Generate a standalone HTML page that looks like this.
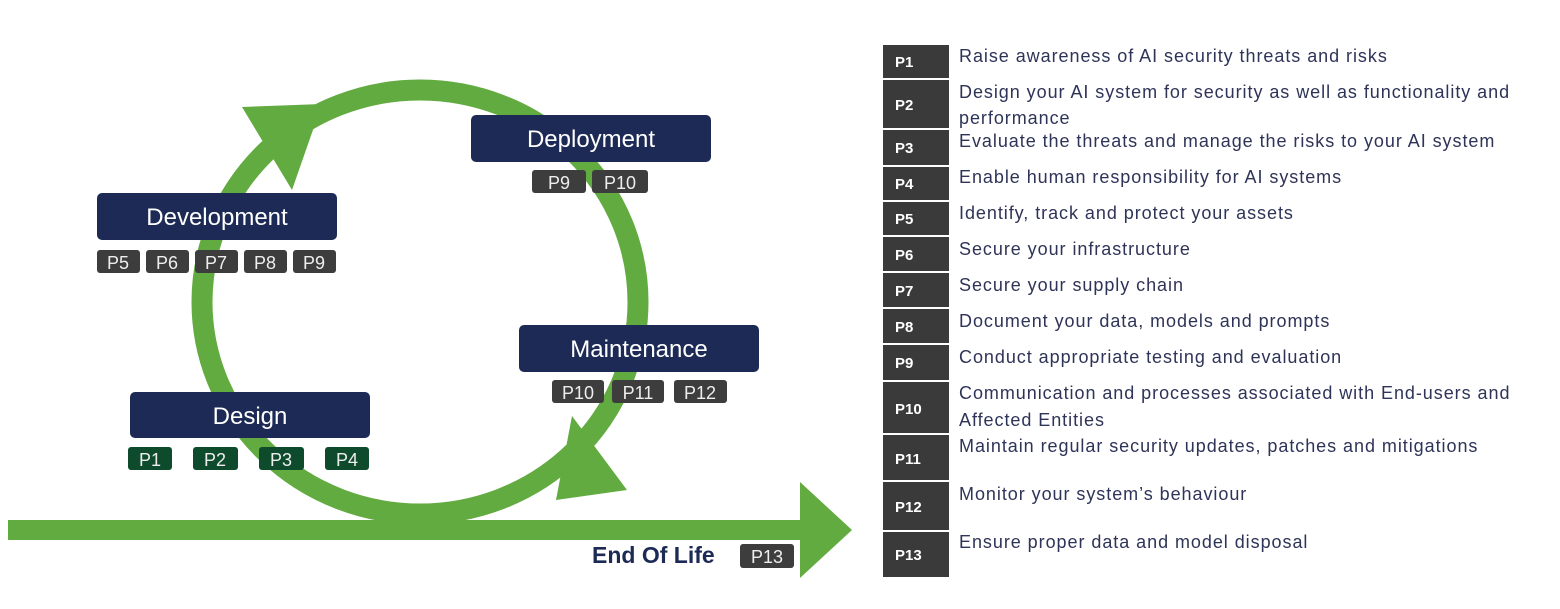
<!DOCTYPE html>
<html><head><meta charset="utf-8"><style>
html,body{margin:0;padding:0;background:#fff;width:1560px;height:609px;overflow:hidden}
svg{display:block}
text{font-family:"Liberation Sans",sans-serif}
</style></head><body>
<svg width="1560" height="609" viewBox="0 0 1560 609">
<ellipse cx="420" cy="302" rx="218" ry="212" fill="none" stroke="#62ab40" stroke-width="21"/>
<polygon points="242,107 292,190 322,104" fill="#62ab40"/>
<polygon points="572,416 627,490 556,500" fill="#62ab40"/>
<rect x="8" y="520" width="795" height="20" fill="#62ab40"/>
<polygon points="800,482 852,530 800,578" fill="#62ab40"/>

<g font-size="24" fill="#fff" text-anchor="middle">
<rect x="471" y="115" width="240" height="47" rx="5" fill="#1c2a55"/><text x="591" y="147">Deployment</text>
<rect x="97" y="193" width="240" height="47" rx="5" fill="#1c2a55"/><text x="217" y="225">Development</text>
<rect x="519" y="325" width="240" height="47" rx="5" fill="#1c2a55"/><text x="639" y="357">Maintenance</text>
<rect x="130" y="392" width="240" height="46" rx="5" fill="#1c2a55"/><text x="250" y="424">Design</text>
</g>
<g font-size="18" fill="#eee" text-anchor="middle">
<rect x="532" y="170" width="54" height="23" rx="3" fill="#3d3d3d"/><text x="559" y="189">P9</text>
<rect x="592" y="170" width="56" height="23" rx="3" fill="#3d3d3d"/><text x="620" y="189">P10</text>
<rect x="97" y="250" width="43" height="23" rx="3" fill="#3d3d3d"/><text x="118" y="269">P5</text>
<rect x="146" y="250" width="43" height="23" rx="3" fill="#3d3d3d"/><text x="167" y="269">P6</text>
<rect x="195" y="250" width="43" height="23" rx="3" fill="#3d3d3d"/><text x="216" y="269">P7</text>
<rect x="244" y="250" width="43" height="23" rx="3" fill="#3d3d3d"/><text x="265" y="269">P8</text>
<rect x="293" y="250" width="43" height="23" rx="3" fill="#3d3d3d"/><text x="314" y="269">P9</text>
<rect x="552" y="380" width="52" height="23" rx="3" fill="#3d3d3d"/><text x="578" y="399">P10</text>
<rect x="612" y="380" width="52" height="23" rx="3" fill="#3d3d3d"/><text x="638" y="399">P11</text>
<rect x="674" y="380" width="53" height="23" rx="3" fill="#3d3d3d"/><text x="700" y="399">P12</text>
<rect x="128" y="447" width="44" height="23" rx="3" fill="#0e4a2c"/><text x="150" y="466">P1</text>
<rect x="193" y="447" width="45" height="23" rx="3" fill="#0e4a2c"/><text x="215" y="466">P2</text>
<rect x="259" y="447" width="45" height="23" rx="3" fill="#0e4a2c"/><text x="281" y="466">P3</text>
<rect x="325" y="447" width="44" height="23" rx="3" fill="#0e4a2c"/><text x="347" y="466">P4</text>
<rect x="740" y="544" width="54" height="24" rx="3" fill="#3d3d3d"/><text x="767" y="563">P13</text>
</g>
<text x="592" y="563" font-size="23" font-weight="bold" fill="#1c2a55">End Of Life</text>

<g fill="#3a3a3a">
<rect x="883" y="45" width="66" height="33"/>
<rect x="883" y="80" width="66" height="48"/>
<rect x="883" y="130" width="66" height="35"/>
<rect x="883" y="167" width="66" height="33"/>
<rect x="883" y="202" width="66" height="33"/>
<rect x="883" y="237" width="66" height="34"/>
<rect x="883" y="273" width="66" height="34"/>
<rect x="883" y="309" width="66" height="34"/>
<rect x="883" y="345" width="66" height="35"/>
<rect x="883" y="382" width="66" height="51"/>
<rect x="883" y="435" width="66" height="45"/>
<rect x="883" y="482" width="66" height="48"/>
<rect x="883" y="532" width="66" height="45"/>
</g>
<g font-size="15" font-weight="bold" fill="#fff">
<text x="895" y="67">P1</text>
<text x="895" y="110">P2</text>
<text x="895" y="153">P3</text>
<text x="895" y="189">P4</text>
<text x="895" y="224">P5</text>
<text x="895" y="260">P6</text>
<text x="895" y="296">P7</text>
<text x="895" y="332">P8</text>
<text x="895" y="368">P9</text>
<text x="895" y="414">P10</text>
<text x="895" y="464">P11</text>
<text x="895" y="512">P12</text>
<text x="895" y="560">P13</text>
</g>
<g font-size="18" fill="#2e3458" letter-spacing="0.95">
<text x="959" y="62">Raise awareness of AI security threats and risks</text>
<text x="959" y="98">Design your AI system for security as well as functionality and</text>
<text x="959" y="124">performance</text>
<text x="959" y="147">Evaluate the threats and manage the risks to your AI system</text>
<text x="959" y="183">Enable human responsibility  for AI systems</text>
<text x="959" y="219">Identify, track and protect your assets</text>
<text x="959" y="255">Secure your infrastructure</text>
<text x="959" y="291">Secure your supply chain</text>
<text x="959" y="327">Document your data, models and prompts</text>
<text x="959" y="363">Conduct appropriate testing and evaluation</text>
<text x="959" y="399">Communication and processes associated with End-users and</text>
<text x="959" y="426">Affected Entities</text>
<text x="959" y="452">Maintain regular security updates, patches and mitigations</text>
<text x="959" y="500">Monitor your system’s behaviour</text>
<text x="959" y="548">Ensure proper data and model disposal</text>
</g>
</svg>
</body></html>
